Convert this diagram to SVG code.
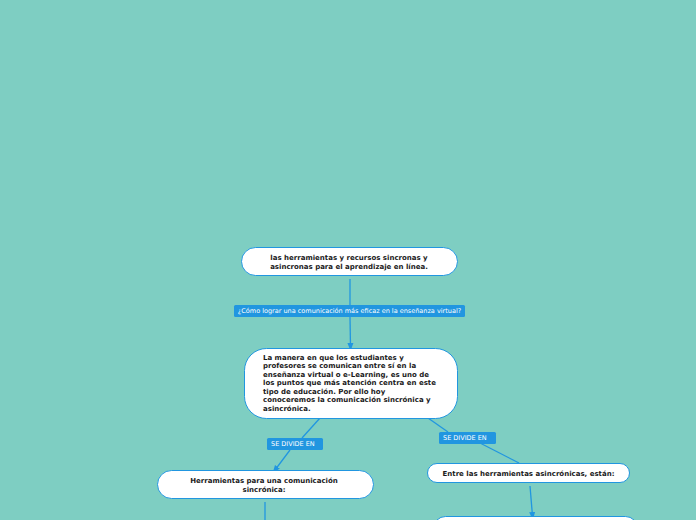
<svg xmlns="http://www.w3.org/2000/svg" width="696" height="520" viewBox="0 0 696 520">
<defs>
<marker id="arr" markerWidth="8" markerHeight="8" refX="4" refY="4" orient="auto" markerUnits="userSpaceOnUse">
<path d="M0,1 L8,4 L0,7 Z" fill="#2196e0"/>
</marker>
<style>
.node{fill:#fff;stroke:#2196e0;stroke-width:1}
.t{font-family:"DejaVu Sans",Verdana,sans-serif;font-weight:bold;font-size:7px;fill:#1a1a1a}
.lbl{fill:#2196e0}
.lt{font-family:"DejaVu Sans",Verdana,sans-serif;font-size:6.5px;fill:#fff}
.c{stroke:#2196e0;stroke-width:1.3;fill:none}
</style>
</defs>
<rect width="696" height="520" fill="#7ecec2"/>
<g id="connectors">
<line class="c" x1="350" y1="279" x2="350" y2="305"/>
<line class="c" x1="350" y1="317" x2="350.5" y2="347" marker-end="url(#arr)"/>
<line class="c" x1="320" y1="418" x2="302" y2="438"/>
<line class="c" x1="290" y1="450" x2="275" y2="470" marker-end="url(#arr)"/>
<line class="c" x1="265" y1="502" x2="265" y2="520"/>
<line class="c" x1="428" y1="418" x2="448" y2="432"/>
<line class="c" x1="480" y1="443" x2="519" y2="463"/>
<line class="c" x1="530" y1="486" x2="532.5" y2="516" marker-end="url(#arr)"/>
</g>
<g id="n1">
<rect class="node" x="241.5" y="247.5" width="216" height="28" rx="14"/>
<text class="t" x="349" y="260" text-anchor="middle">las herramientas y recursos sincronas y</text>
<text class="t" x="349" y="268.5" text-anchor="middle">asincronas para el aprendizaje en línea.</text>
</g>
<g id="l1">
<rect class="lbl" x="234" y="305" width="231" height="12" rx="1.5"/>
<text class="lt" x="349.5" y="313.4" text-anchor="middle">¿Cómo lograr una comunicación más eficaz en la enseñanza virtual?</text>
</g>
<g id="n2">
<rect class="node" x="244.5" y="348.5" width="213" height="70" rx="22"/>
<text class="t" x="263" y="359.5">La manera en que los estudiantes y</text>
<text class="t" x="263" y="368">profesores se comunican entre sí en la</text>
<text class="t" x="263" y="376.5">enseñanza virtual o e-Learning, es uno de</text>
<text class="t" x="263" y="385">los puntos que más atención centra en este</text>
<text class="t" x="263" y="393.5">tipo de educación. Por ello hoy</text>
<text class="t" x="263" y="402">conoceremos la comunicación sincrónica y</text>
<text class="t" x="263" y="410.5">asincrónica.</text>
</g>
<g id="l2">
<rect class="lbl" x="267" y="438" width="56" height="12" rx="1.5"/>
<text class="lt" x="271" y="446.4">SE DIVIDE EN</text>
</g>
<g id="n3">
<rect class="node" x="157.5" y="470.5" width="216" height="28" rx="14"/>
<text class="t" x="264" y="483" text-anchor="middle">Herramientas para una comunicación</text>
<text class="t" x="264" y="491.5" text-anchor="middle">sincrónica:</text>
</g>
<g id="l3">
<rect class="lbl" x="439" y="432" width="57" height="12" rx="1.5"/>
<text class="lt" x="443" y="440.4">SE DIVIDE EN</text>
</g>
<g id="n4">
<rect class="node" x="427.5" y="463.5" width="202" height="19" rx="9.5"/>
<text class="t" x="528.5" y="475.5" text-anchor="middle">Entre las herramientas asincrónicas, están:</text>
</g>
<g id="n5">
<rect class="node" x="433.5" y="516.5" width="204" height="30" rx="12"/>
</g>
</svg>
